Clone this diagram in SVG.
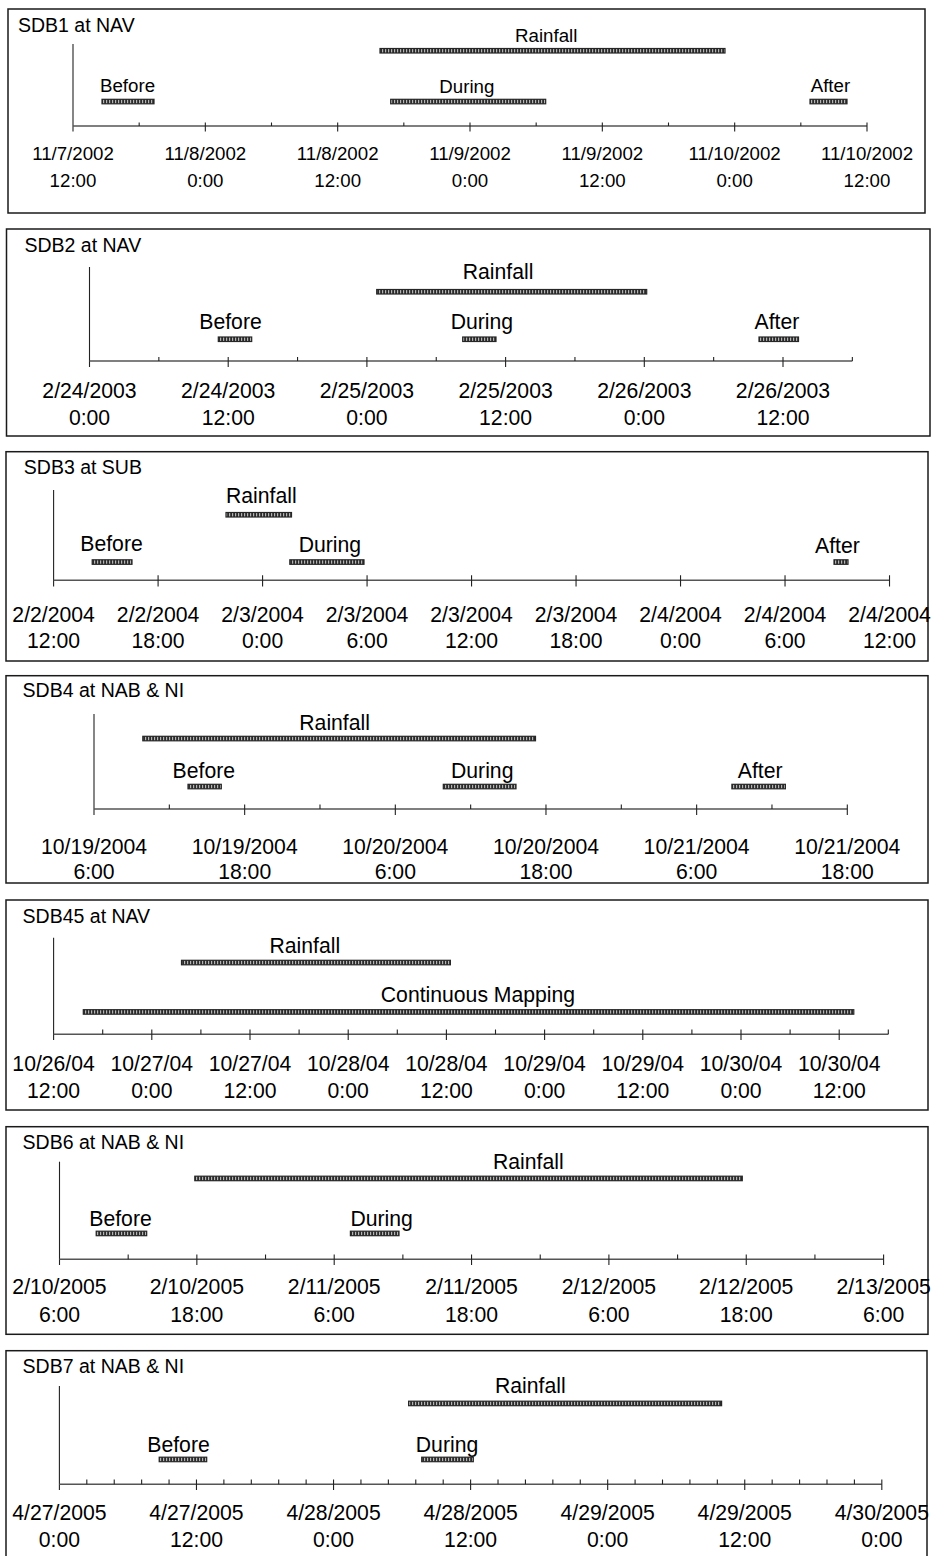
<svg xmlns="http://www.w3.org/2000/svg" width="933" height="1556" viewBox="0 0 933 1556">
<style>
text{font-family:"Liberation Sans",Arial,sans-serif;fill:#000}
.title{font-size:19.5px}
.lbl{font-size:21.2px;text-anchor:middle}
.p1 .lbl{font-size:18.7px}
.evt{font-size:21.2px}
.p1 .evt{font-size:18.7px}
.frame{fill:none;stroke:#1a1a1a;stroke-width:1.5}
.axis{fill:none;stroke:#555;stroke-width:1.6}
.vax{fill:none;stroke:#222;stroke-width:1.1}
.tick{fill:none;stroke:#222;stroke-width:1.1}
.bar{fill:url(#barfill);stroke:#262626;stroke-width:1.2}
</style>
<defs>
<pattern id="barfill" width="3" height="3" patternUnits="userSpaceOnUse">
<rect width="3" height="3" fill="#2a2a2a"/>
<rect x="1" width="1.2" height="3" fill="#b5b5b5"/>
</pattern>
</defs>
<rect width="933" height="1556" fill="#fff"/>

<g id="panel1" class="p1">
<rect class="frame" x="8" y="9" width="917" height="204"/>
<text class="title" x="18" y="32">SDB1 at NAV</text>
<path class="vax" d="M73 44V131.5"/>
<path class="axis" d="M73 126H867"/>
<path class="tick" d="M205.33 122.5V131.5M337.67 122.5V131.5M470 122.5V131.5M602.33 122.5V131.5M734.67 122.5V131.5M867 122.5V131.5M139.17 122.5V126M271.5 122.5V126M403.83 122.5V126M536.17 122.5V126M668.5 122.5V126M800.83 122.5V126"/>
<text class="evt" x="515" y="42">Rainfall</text>
<rect class="bar" x="380" y="48.5" width="345" height="4.5"/>
<text class="evt" x="100" y="92">Before</text>
<rect class="bar" x="102" y="99.3" width="52" height="4.5"/>
<text class="evt" x="439.3" y="92.7">During</text>
<rect class="bar" x="390.7" y="99.3" width="155" height="4.5"/>
<text class="evt" x="810.7" y="92">After</text>
<rect class="bar" x="810" y="99.3" width="37" height="4.5"/>
<text class="lbl" x="73" y="160">11/7/2002<tspan x="73" y="187">12:00</tspan></text>
<text class="lbl" x="205.33" y="160">11/8/2002<tspan x="205.33" y="187">0:00</tspan></text>
<text class="lbl" x="337.67" y="160">11/8/2002<tspan x="337.67" y="187">12:00</tspan></text>
<text class="lbl" x="470" y="160">11/9/2002<tspan x="470" y="187">0:00</tspan></text>
<text class="lbl" x="602.33" y="160">11/9/2002<tspan x="602.33" y="187">12:00</tspan></text>
<text class="lbl" x="734.67" y="160">11/10/2002<tspan x="734.67" y="187">0:00</tspan></text>
<text class="lbl" x="867" y="160">11/10/2002<tspan x="867" y="187">12:00</tspan></text>
</g>

<g id="panel2">
<rect class="frame" x="6.5" y="229" width="923.5" height="207"/>
<text class="title" x="24.5" y="251.7">SDB2 at NAV</text>
<path class="vax" d="M89.5 267V367"/>
<path class="axis" d="M89.5 361H852.4"/>
<path class="tick" d="M228.2 357V367M366.9 357V367M505.6 357V367M644.3 357V367M783 357V367M158.85 357V361M297.55 357V361M436.25 357V361M574.95 357V361M713.65 357V361M852.35 357V361"/>
<text class="evt" x="462.7" y="279.3">Rainfall</text>
<rect class="bar" x="376.7" y="289.5" width="270" height="4.5"/>
<text class="evt" x="199.3" y="329">Before</text>
<rect class="bar" x="218.3" y="337" width="33.4" height="4.5"/>
<text class="evt" x="450.7" y="329">During</text>
<rect class="bar" x="462.7" y="337" width="33.3" height="4.5"/>
<text class="evt" x="754.5" y="329">After</text>
<rect class="bar" x="759" y="337" width="39.5" height="4.5"/>
<text class="lbl" x="89.5" y="398">2/24/2003<tspan x="89.5" y="425">0:00</tspan></text>
<text class="lbl" x="228.2" y="398">2/24/2003<tspan x="228.2" y="425">12:00</tspan></text>
<text class="lbl" x="366.9" y="398">2/25/2003<tspan x="366.9" y="425">0:00</tspan></text>
<text class="lbl" x="505.6" y="398">2/25/2003<tspan x="505.6" y="425">12:00</tspan></text>
<text class="lbl" x="644.3" y="398">2/26/2003<tspan x="644.3" y="425">0:00</tspan></text>
<text class="lbl" x="783" y="398">2/26/2003<tspan x="783" y="425">12:00</tspan></text>
</g>

<g id="panel3">
<rect class="frame" x="6" y="451.7" width="922" height="209.3"/>
<text class="title" x="23.8" y="474.3">SDB3 at SUB</text>
<path class="vax" d="M53.6 490V586.5"/>
<path class="axis" d="M53.6 580.3H889.5"/>
<path class="tick" d="M158.09 575.3V586.5M262.58 575.3V586.5M367.07 575.3V586.5M471.56 575.3V586.5M576.05 575.3V586.5M680.54 575.3V586.5M785.03 575.3V586.5M889.52 575.3V586.5"/>
<text class="evt" x="226" y="503.3">Rainfall</text>
<rect class="bar" x="226" y="512.5" width="65.5" height="4.5"/>
<text class="evt" x="80.3" y="551">Before</text>
<rect class="bar" x="92.2" y="559.8" width="39.8" height="4.5"/>
<text class="evt" x="298.7" y="552">During</text>
<rect class="bar" x="289.8" y="559.8" width="74.2" height="4.5"/>
<text class="evt" x="815" y="553">After</text>
<rect class="bar" x="834" y="559.8" width="14" height="4.5"/>
<text class="lbl" x="53.6" y="621.7">2/2/2004<tspan x="53.6" y="648.3">12:00</tspan></text>
<text class="lbl" x="158.09" y="621.7">2/2/2004<tspan x="158.09" y="648.3">18:00</tspan></text>
<text class="lbl" x="262.58" y="621.7">2/3/2004<tspan x="262.58" y="648.3">0:00</tspan></text>
<text class="lbl" x="367.07" y="621.7">2/3/2004<tspan x="367.07" y="648.3">6:00</tspan></text>
<text class="lbl" x="471.56" y="621.7">2/3/2004<tspan x="471.56" y="648.3">12:00</tspan></text>
<text class="lbl" x="576.05" y="621.7">2/3/2004<tspan x="576.05" y="648.3">18:00</tspan></text>
<text class="lbl" x="680.54" y="621.7">2/4/2004<tspan x="680.54" y="648.3">0:00</tspan></text>
<text class="lbl" x="785.03" y="621.7">2/4/2004<tspan x="785.03" y="648.3">6:00</tspan></text>
<text class="lbl" x="889.52" y="621.7">2/4/2004<tspan x="889.52" y="648.3">12:00</tspan></text>
</g>

<g id="panel4">
<rect class="frame" x="6" y="675.7" width="922" height="207.3"/>
<text class="title" x="22.6" y="696.7">SDB4 at NAB &amp; NI</text>
<path class="vax" d="M94 714V815"/>
<path class="axis" d="M94 809H847.3"/>
<path class="tick" d="M244.66 804.5V815M395.32 804.5V815M545.98 804.5V815M696.64 804.5V815M847.3 804.5V815M169.33 804.5V809M319.99 804.5V809M470.65 804.5V809M621.31 804.5V809M771.97 804.5V809"/>
<text class="evt" x="299.3" y="730">Rainfall</text>
<rect class="bar" x="142.8" y="736.3" width="392.7" height="4.5"/>
<text class="evt" x="172.6" y="778.3">Before</text>
<rect class="bar" x="188" y="784.3" width="33.3" height="4.5"/>
<text class="evt" x="451" y="778.3">During</text>
<rect class="bar" x="443.3" y="784.3" width="72.7" height="4.5"/>
<text class="evt" x="737.8" y="778.3">After</text>
<rect class="bar" x="731.9" y="784.3" width="53.5" height="4.5"/>
<text class="lbl" x="94" y="854">10/19/2004<tspan x="94" y="879.3">6:00</tspan></text>
<text class="lbl" x="244.66" y="854">10/19/2004<tspan x="244.66" y="879.3">18:00</tspan></text>
<text class="lbl" x="395.32" y="854">10/20/2004<tspan x="395.32" y="879.3">6:00</tspan></text>
<text class="lbl" x="545.98" y="854">10/20/2004<tspan x="545.98" y="879.3">18:00</tspan></text>
<text class="lbl" x="696.64" y="854">10/21/2004<tspan x="696.64" y="879.3">6:00</tspan></text>
<text class="lbl" x="847.3" y="854">10/21/2004<tspan x="847.3" y="879.3">18:00</tspan></text>
</g>

<g id="panel5">
<rect class="frame" x="6" y="900" width="922" height="210"/>
<text class="title" x="22.6" y="922.7">SDB45 at NAV</text>
<path class="vax" d="M53.6 937.7V1040"/>
<path class="axis" d="M53.6 1034.3H888.3"/>
<path class="tick" d="M151.8 1029.5V1040M250 1029.5V1040M348.2 1029.5V1040M446.4 1029.5V1040M544.6 1029.5V1040M642.8 1029.5V1040M741 1029.5V1040M839.2 1029.5V1040M102.7 1029.5V1034.3M200.9 1029.5V1034.3M299.1 1029.5V1034.3M397.3 1029.5V1034.3M495.5 1029.5V1034.3M593.7 1029.5V1034.3M691.9 1029.5V1034.3M790.1 1029.5V1034.3M888.3 1029.5V1034.3"/>
<text class="evt" x="269.5" y="953.3">Rainfall</text>
<rect class="bar" x="181.5" y="960.3" width="268.9" height="4.5"/>
<text class="evt" x="380.8" y="1001.7">Continuous Mapping</text>
<rect class="bar" x="83.3" y="1009.7" width="770.5" height="4.5"/>
<text class="lbl" x="53.6" y="1071">10/26/04<tspan x="53.6" y="1098.3">12:00</tspan></text>
<text class="lbl" x="151.8" y="1071">10/27/04<tspan x="151.8" y="1098.3">0:00</tspan></text>
<text class="lbl" x="250" y="1071">10/27/04<tspan x="250" y="1098.3">12:00</tspan></text>
<text class="lbl" x="348.2" y="1071">10/28/04<tspan x="348.2" y="1098.3">0:00</tspan></text>
<text class="lbl" x="446.4" y="1071">10/28/04<tspan x="446.4" y="1098.3">12:00</tspan></text>
<text class="lbl" x="544.6" y="1071">10/29/04<tspan x="544.6" y="1098.3">0:00</tspan></text>
<text class="lbl" x="642.8" y="1071">10/29/04<tspan x="642.8" y="1098.3">12:00</tspan></text>
<text class="lbl" x="741" y="1071">10/30/04<tspan x="741" y="1098.3">0:00</tspan></text>
<text class="lbl" x="839.2" y="1071">10/30/04<tspan x="839.2" y="1098.3">12:00</tspan></text>
</g>

<g id="panel6">
<rect class="frame" x="6" y="1126.7" width="922" height="207.6"/>
<text class="title" x="22.6" y="1149">SDB6 at NAB &amp; NI</text>
<path class="vax" d="M59.5 1161.7V1265"/>
<path class="axis" d="M59.5 1259.3H883.6"/>
<path class="tick" d="M196.85 1254.5V1265M334.2 1254.5V1265M471.55 1254.5V1265M608.9 1254.5V1265M746.25 1254.5V1265M883.6 1254.5V1265M128.18 1254.5V1259.3M265.53 1254.5V1259.3M402.88 1254.5V1259.3M540.23 1254.5V1259.3M677.58 1254.5V1259.3M814.93 1254.5V1259.3"/>
<text class="evt" x="493" y="1169">Rainfall</text>
<rect class="bar" x="194.8" y="1176.2" width="547.5" height="4.5"/>
<text class="evt" x="89.3" y="1225.7">Before</text>
<rect class="bar" x="96.2" y="1231.2" width="50.5" height="4.5"/>
<text class="evt" x="350.4" y="1225.7">During</text>
<rect class="bar" x="350.4" y="1231.2" width="48.6" height="4.5"/>
<text class="lbl" x="59.5" y="1294.3">2/10/2005<tspan x="59.5" y="1321.7">6:00</tspan></text>
<text class="lbl" x="196.85" y="1294.3">2/10/2005<tspan x="196.85" y="1321.7">18:00</tspan></text>
<text class="lbl" x="334.2" y="1294.3">2/11/2005<tspan x="334.2" y="1321.7">6:00</tspan></text>
<text class="lbl" x="471.55" y="1294.3">2/11/2005<tspan x="471.55" y="1321.7">18:00</tspan></text>
<text class="lbl" x="608.9" y="1294.3">2/12/2005<tspan x="608.9" y="1321.7">6:00</tspan></text>
<text class="lbl" x="746.25" y="1294.3">2/12/2005<tspan x="746.25" y="1321.7">18:00</tspan></text>
<text class="lbl" x="883.6" y="1294.3">2/13/2005<tspan x="883.6" y="1321.7">6:00</tspan></text>
</g>

<g id="panel7">
<rect class="frame" x="6" y="1350.7" width="921" height="215"/>
<text class="title" x="22.6" y="1372.7">SDB7 at NAB &amp; NI</text>
<path class="vax" d="M59.4 1386V1490"/>
<path class="axis" d="M59.4 1484.3H881.8"/>
<path class="tick" d="M196.47 1479.5V1490M333.54 1479.5V1490M470.61 1479.5V1490M607.68 1479.5V1490M744.75 1479.5V1490M881.82 1479.5V1490M86.81 1479.5V1484.3M114.23 1479.5V1484.3M141.64 1479.5V1484.3M169.06 1479.5V1484.3M223.88 1479.5V1484.3M251.3 1479.5V1484.3M278.71 1479.5V1484.3M306.13 1479.5V1484.3M360.95 1479.5V1484.3M388.37 1479.5V1484.3M415.78 1479.5V1484.3M443.2 1479.5V1484.3M498.02 1479.5V1484.3M525.44 1479.5V1484.3M552.85 1479.5V1484.3M580.27 1479.5V1484.3M635.09 1479.5V1484.3M662.51 1479.5V1484.3M689.92 1479.5V1484.3M717.34 1479.5V1484.3M772.16 1479.5V1484.3M799.58 1479.5V1484.3M826.99 1479.5V1484.3M854.41 1479.5V1484.3"/>
<text class="evt" x="495" y="1392.7">Rainfall</text>
<rect class="bar" x="408.6" y="1401.2" width="313" height="4.5"/>
<text class="evt" x="147.3" y="1451.7">Before</text>
<rect class="bar" x="159.2" y="1457.2" width="47.5" height="4.5"/>
<text class="evt" x="415.8" y="1451.7">During</text>
<rect class="bar" x="421.7" y="1457.2" width="51.6" height="4.5"/>
<text class="lbl" x="59.4" y="1520">4/27/2005<tspan x="59.4" y="1546.7">0:00</tspan></text>
<text class="lbl" x="196.47" y="1520">4/27/2005<tspan x="196.47" y="1546.7">12:00</tspan></text>
<text class="lbl" x="333.54" y="1520">4/28/2005<tspan x="333.54" y="1546.7">0:00</tspan></text>
<text class="lbl" x="470.61" y="1520">4/28/2005<tspan x="470.61" y="1546.7">12:00</tspan></text>
<text class="lbl" x="607.68" y="1520">4/29/2005<tspan x="607.68" y="1546.7">0:00</tspan></text>
<text class="lbl" x="744.75" y="1520">4/29/2005<tspan x="744.75" y="1546.7">12:00</tspan></text>
<text class="lbl" x="881.82" y="1520">4/30/2005<tspan x="881.82" y="1546.7">0:00</tspan></text>
</g>
</svg>
